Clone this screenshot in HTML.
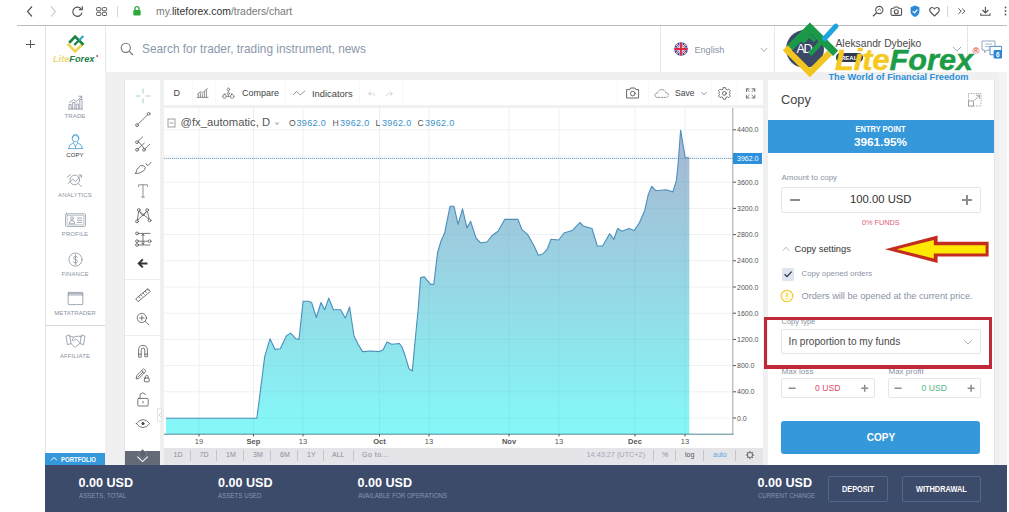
<!DOCTYPE html>
<html lang="en">
<head>
<meta charset="utf-8">
<title>LiteForex - Copy trading chart</title>
<style>
*{box-sizing:border-box;margin:0;padding:0}
html,body{width:1009px;height:512px;overflow:hidden;background:#fff}
body{position:relative;font-family:"Liberation Sans",sans-serif;color:#444;-webkit-font-smoothing:antialiased}
.a{position:absolute}
.t{position:absolute;white-space:nowrap;line-height:1}
.b{font-weight:bold}
.c{text-align:center}
svg{position:absolute;overflow:visible}
.ic{fill:none;stroke-linecap:round;stroke-linejoin:round}
.sb{font-size:6px;color:#8a93a3;width:60px;left:45px;text-align:center;letter-spacing:.1px}
.rg{font-size:7px;color:#8c8c9c;top:451px}
.sep{position:absolute;width:1px;background:#c4c4cc;top:450px;height:11px}
.ax{font-size:7px;color:#555;left:737px}
.tl{font-size:7.5px;color:#555;top:437.8px;width:30px;text-align:center}
</style>
</head>
<body>

<!-- ===== browser chrome ===== -->
<div class="a" style="left:17px;top:25px;width:989.7px;height:1px;background:#bdbdbd"></div>

<!-- ===== page backgrounds ===== -->
<div class="a" style="left:45px;top:26px;width:961.7px;height:46px;background:#fff"></div>
<div class="a" style="left:105px;top:72px;width:901.7px;height:393px;background:#f0f0f0"></div>
<div class="a" style="left:44.6px;top:26px;width:1.2px;height:486px;background:#e2e2e2"></div>
<div class="a" style="left:105px;top:26px;width:1px;height:46px;background:#e6e6e6"></div>
<div class="a" style="left:660px;top:26px;width:1px;height:46px;background:#e6e6e6"></div>
<div class="a" style="left:774px;top:26px;width:1px;height:46px;background:#e6e6e6"></div>
<div class="a" style="left:967px;top:26px;width:1px;height:46px;background:#e6e6e6"></div>
<div class="a" style="left:994px;top:80px;width:1px;height:385px;background:#e4e4e4"></div><div class="a" style="left:999px;top:72px;width:7.7px;height:393px;background:#f3f3f3"></div>

<!-- sidebar -->
<div class="a" style="left:46px;top:72px;width:59px;height:393px;background:#fff"></div>
<!-- tool panel -->
<div class="a" style="left:124px;top:80px;width:36px;height:385px;background:#fff;border-left:1px solid #e6e6e6"></div>
<!-- toolbar -->
<div class="a" style="left:164px;top:80px;width:599px;height:25px;background:#fff"></div>
<!-- chart pane -->
<div class="a" style="left:164px;top:108.4px;width:599px;height:339.6px;background:#fff"></div>
<div class="a" style="left:164px;top:448px;width:599px;height:17px;background:#e4e4e9"></div>

<!-- ===== chart ===== -->
<svg width="1009" height="512" viewBox="0 0 1009 512" style="left:0;top:0">
<defs><linearGradient id="ag" x1="0" y1="108" x2="0" y2="434" gradientUnits="userSpaceOnUse"><stop offset="0" stop-color="#acb0cf"/><stop offset="1" stop-color="#84f8f7"/></linearGradient><clipPath id="ac"><path d="M166,418.2 L256.9,418.2 L260.5,390 L264.7,356.6 L270,338.8 L275,349.4 L280.3,348.8 L286.6,335.6 L290.6,333.1 L296,338.8 L299,339.4 L303.1,301.3 L308.4,301.3 L311.6,302.5 L316.3,317.5 L321,302.5 L324.7,309.7 L328.8,298.1 L333.4,309.7 L340.6,309.7 L345.3,318.1 L349.6,307 L354,336 L358,344 L362.5,351.6 L371,351 L379,351.6 L383,350 L387,342 L391.7,344.2 L399.5,343.5 L402,347 L405.8,357.8 L409,368.8 L412.3,371 L415,342 L418.3,307.8 L420.6,277.5 L424.4,276.9 L430.6,284.4 L433.8,284.4 L437.5,253 L441,241 L444.7,232.8 L450,206.3 L454,206.3 L458,224.4 L462.5,208.8 L467,228 L470.6,221.3 L476,238 L480.6,242.8 L487,242 L491.6,236 L498,231.3 L504.7,219.4 L518,219.4 L522,229.7 L527.5,234.4 L533.8,245.3 L538.3,255.2 L542.8,254 L547.4,248.8 L551,239.3 L558.7,240 L564,233 L572.7,230.2 L579.8,222.5 L583.3,226 L592,228.5 L597.3,246 L602.6,246 L609.6,233.7 L613.8,239.3 L617.7,228.5 L622,231.3 L629,228.5 L634.2,230.6 L639.5,222.5 L644.8,210.2 L648.3,194.4 L651.8,186.3 L656,190.8 L665.9,189.8 L672.9,191.9 L676.4,180.3 L678.2,162.7 L680.6,130.2 L685.2,157.5 L689.3,158 L689.3,434 L166,434 Z"/></clipPath></defs>
<path d="M199,108V434M253.5,108V434M303,108V434M379.5,108V434M429,108V434M509,108V434M559,108V434M635,108V434M685,108V434M164,129.8H733M164,156.0H733M164,182.2H733M164,208.4H733M164,234.6H733M164,260.8H733M164,287.0H733M164,313.2H733M164,339.4H733M164,365.6H733M164,391.8H733M164,418.0H733" stroke="#edf0f3" stroke-width="1" fill="none"/>
<path d="M166,418.2 L256.9,418.2 L260.5,390 L264.7,356.6 L270,338.8 L275,349.4 L280.3,348.8 L286.6,335.6 L290.6,333.1 L296,338.8 L299,339.4 L303.1,301.3 L308.4,301.3 L311.6,302.5 L316.3,317.5 L321,302.5 L324.7,309.7 L328.8,298.1 L333.4,309.7 L340.6,309.7 L345.3,318.1 L349.6,307 L354,336 L358,344 L362.5,351.6 L371,351 L379,351.6 L383,350 L387,342 L391.7,344.2 L399.5,343.5 L402,347 L405.8,357.8 L409,368.8 L412.3,371 L415,342 L418.3,307.8 L420.6,277.5 L424.4,276.9 L430.6,284.4 L433.8,284.4 L437.5,253 L441,241 L444.7,232.8 L450,206.3 L454,206.3 L458,224.4 L462.5,208.8 L467,228 L470.6,221.3 L476,238 L480.6,242.8 L487,242 L491.6,236 L498,231.3 L504.7,219.4 L518,219.4 L522,229.7 L527.5,234.4 L533.8,245.3 L538.3,255.2 L542.8,254 L547.4,248.8 L551,239.3 L558.7,240 L564,233 L572.7,230.2 L579.8,222.5 L583.3,226 L592,228.5 L597.3,246 L602.6,246 L609.6,233.7 L613.8,239.3 L617.7,228.5 L622,231.3 L629,228.5 L634.2,230.6 L639.5,222.5 L644.8,210.2 L648.3,194.4 L651.8,186.3 L656,190.8 L665.9,189.8 L672.9,191.9 L676.4,180.3 L678.2,162.7 L680.6,130.2 L685.2,157.5 L689.3,158 L689.3,434 L166,434 Z" fill="url(#ag)"/>
<path d="M199,108V434M253.5,108V434M303,108V434M379.5,108V434M429,108V434M509,108V434M559,108V434M635,108V434M685,108V434M164,129.8H733M164,156.0H733M164,182.2H733M164,208.4H733M164,234.6H733M164,260.8H733M164,287.0H733M164,313.2H733M164,339.4H733M164,365.6H733M164,391.8H733M164,418.0H733" stroke="#5aa8c0" stroke-opacity=".13" stroke-width="1" fill="none" clip-path="url(#ac)"/>
<path d="M166,418.2 L256.9,418.2 L260.5,390 L264.7,356.6 L270,338.8 L275,349.4 L280.3,348.8 L286.6,335.6 L290.6,333.1 L296,338.8 L299,339.4 L303.1,301.3 L308.4,301.3 L311.6,302.5 L316.3,317.5 L321,302.5 L324.7,309.7 L328.8,298.1 L333.4,309.7 L340.6,309.7 L345.3,318.1 L349.6,307 L354,336 L358,344 L362.5,351.6 L371,351 L379,351.6 L383,350 L387,342 L391.7,344.2 L399.5,343.5 L402,347 L405.8,357.8 L409,368.8 L412.3,371 L415,342 L418.3,307.8 L420.6,277.5 L424.4,276.9 L430.6,284.4 L433.8,284.4 L437.5,253 L441,241 L444.7,232.8 L450,206.3 L454,206.3 L458,224.4 L462.5,208.8 L467,228 L470.6,221.3 L476,238 L480.6,242.8 L487,242 L491.6,236 L498,231.3 L504.7,219.4 L518,219.4 L522,229.7 L527.5,234.4 L533.8,245.3 L538.3,255.2 L542.8,254 L547.4,248.8 L551,239.3 L558.7,240 L564,233 L572.7,230.2 L579.8,222.5 L583.3,226 L592,228.5 L597.3,246 L602.6,246 L609.6,233.7 L613.8,239.3 L617.7,228.5 L622,231.3 L629,228.5 L634.2,230.6 L639.5,222.5 L644.8,210.2 L648.3,194.4 L651.8,186.3 L656,190.8 L665.9,189.8 L672.9,191.9 L676.4,180.3 L678.2,162.7 L680.6,130.2 L685.2,157.5 L689.3,158" fill="none" stroke="#4b8fbb" stroke-width="1.1" stroke-linejoin="round"/>
<path d="M164,158.4H733" stroke="#5f95bd" stroke-width="1" stroke-dasharray="1.3,.7" stroke-opacity=".9" fill="none"/>
<path d="M164,434.2H733.5" stroke="#4d8894" stroke-width="1" fill="none"/><path d="M732.8,108V434.6" stroke="#8a8a8a" stroke-width=".8" fill="none"/>
<path d="M733,129.8h3M733,156.0h3M733,182.2h3M733,208.4h3M733,234.6h3M733,260.8h3M733,287.0h3M733,313.2h3M733,339.4h3M733,365.6h3M733,391.8h3M733,418.0h3M199,434v2.5M253.5,434v2.5M303,434v2.5M379.5,434v2.5M429,434v2.5M509,434v2.5M559,434v2.5M635,434v2.5M685,434v2.5" stroke="#555" stroke-width="1" fill="none"/>
</svg>
<div class="t ax" style="top:126.3px">4400.0</div>
<div class="t ax" style="top:178.7px">3600.0</div>
<div class="t ax" style="top:204.9px">3200.0</div>
<div class="t ax" style="top:231.1px">2800.0</div>
<div class="t ax" style="top:257.3px">2400.0</div>
<div class="t ax" style="top:283.5px">2000.0</div>
<div class="t ax" style="top:309.7px">1600.0</div>
<div class="t ax" style="top:335.9px">1200.0</div>
<div class="t ax" style="top:362.1px">800.0</div>
<div class="t ax" style="top:388.3px">400.0</div>
<div class="t ax" style="top:414.5px">0.0</div>

<div class="a" style="left:733px;top:153.4px;width:29.2px;height:10.6px;background:#2d90dc"></div>
<div class="t" style="left:737px;top:155px;font-size:7px;color:#fff">3962.0</div>
<div class="t tl" style="left:184px">19</div>
<div class="t tl b" style="left:238.5px">Sep</div>
<div class="t tl" style="left:288px">13</div>
<div class="t tl b" style="left:364.5px">Oct</div>
<div class="t tl" style="left:414px">13</div>
<div class="t tl b" style="left:494px">Nov</div>
<div class="t tl" style="left:544px">13</div>
<div class="t tl b" style="left:620px">Dec</div>
<div class="t tl" style="left:670px">13</div>



<!-- ===== browser chrome content ===== -->
<svg width="1009" height="25" viewBox="0 0 1009 25" style="left:0;top:0">
 <path d="M32,6.5 27.5,11.5 32,16.5" fill="none" stroke="#555" stroke-width="1.2"/>
 <path d="M51,6.5 55.5,11.5 51,16.5" fill="none" stroke="#d0d0d0" stroke-width="1.2"/>
 <path d="M81.3,9.3A4.6,4.6 0 1 0 81.9,12.6" fill="none" stroke="#555" stroke-width="1.2"/>
 <path d="M82.3,6.3V9.7H78.9" fill="none" stroke="#555" stroke-width="1.2"/>
 <g fill="none" stroke="#555" stroke-width="1"><rect x="96.6" y="7.6" width="4.2" height="3.2" rx=".9"/><rect x="102.4" y="7.6" width="4.2" height="3.2" rx=".9"/><rect x="96.6" y="12.3" width="4.2" height="3.2" rx=".9"/><rect x="102.4" y="12.3" width="4.2" height="3.2" rx=".9"/></g>
 <path d="M117.5,6V17" stroke="#d6d6d6" stroke-width="1"/>
 <rect x="133.3" y="10" width="7.4" height="5.6" rx="1" fill="#2eaa3c"/>
 <path d="M135,10.2V8.6a2,2 0 0 1 4,0V10.2" fill="none" stroke="#2eaa3c" stroke-width="1.3"/>
 <!-- right icons -->
 <circle cx="879.3" cy="10" r="3.6" fill="none" stroke="#555" stroke-width="1.1"/><path d="M876.6,12.7 873,16.3" stroke="#555" stroke-width="1.3"/><path d="M877.6,10.6 879.3,8.8 881,10.3" fill="none" stroke="#555" stroke-width=".8"/>
 <path d="M892.4,8.2H894L895,7H897.6L898.6,8.2H900.2Q901.6,8.2 901.6,9.6V14Q901.6,15.4 900.2,15.4H892.4Q891,15.4 891,14V9.6Q891,8.2 892.4,8.2Z" fill="none" stroke="#555" stroke-width="1.1"/><circle cx="896.3" cy="11.7" r="2" fill="none" stroke="#555" stroke-width="1.1"/>
 <path d="M915,5.6 919.4,7.2V11.5Q919.4,15 915,17Q910.6,15 910.6,11.5V7.2Z" fill="#2c8ad8"/><path d="M912.8,11.2 914.5,12.9 917.4,9.6" fill="none" stroke="#fff" stroke-width="1.2"/>
 <path d="M934.5,16 930.4,12Q928.8,9.6 930.6,8Q932.8,6.6 934.5,9Q936.2,6.6 938.4,8Q940.2,9.6 938.6,12Z" fill="none" stroke="#555" stroke-width="1.1" stroke-linejoin="round"/>
 <path d="M947.5,6V17" stroke="#d6d6d6" stroke-width="1"/>
 <path d="M958.4,8.5 961.2,11.2 958.4,13.9M962.2,8.5 965,11.2 962.2,13.9" fill="none" stroke="#555" stroke-width="1"/>
 <path d="M985.4,6.8V12.8M982.4,10 985.4,13 988.4,10M980.8,13.2V15.2H990V13.2" fill="none" stroke="#555" stroke-width="1.1"/>
 <g fill="#555"><circle cx="1005.5" cy="7.5" r=".9"/><circle cx="1005.5" cy="11" r=".9"/><circle cx="1005.5" cy="14.5" r=".9"/></g>
</svg>
<div class="t" style="left:156px;top:7.1px;font-size:10.4px;color:#333"><span style="color:#777">my.</span>liteforex.com<span style="color:#777">/traders/chart</span></div>

<!-- plus -->
<div class="a" style="left:26px;top:44px;width:8.6px;height:1px;background:#555"></div><div class="a" style="left:30px;top:40.4px;width:1px;height:8px;background:#555"></div>

<!-- ===== header ===== -->
<svg width="62" height="46" viewBox="45 26 62 46" style="left:45px;top:26px">
 <path d="M67.6,43.8 75.1,51.4 82.4,44.2" fill="none" stroke="#f0d458" stroke-width="2.7"/>
 <path d="M69.2,42.7 75.1,36.6 83.5,44.7" fill="none" stroke="#1b8443" stroke-width="2.7" stroke-linejoin="miter"/>
 <path d="M74.2,45 79,40.4" fill="none" stroke="#1b8443" stroke-width="2.3"/>
 <path d="M79,40.4 83.4,36" fill="none" stroke="#2aa2c6" stroke-width="2"/>
 <text x="53" y="61.7" font-family="Liberation Sans, sans-serif" font-size="8.6" font-weight="bold" font-style="italic" textLength="41.4" lengthAdjust="spacingAndGlyphs"><tspan fill="#ecd97a">Lite</tspan><tspan fill="#1f7f47">Forex</tspan></text>
 <circle cx="97.2" cy="56" r=".9" fill="#a8443c"/>
</svg>
<svg width="14" height="14" viewBox="0 0 14 14" style="left:120px;top:42px"><circle cx="5.8" cy="5.8" r="4.6" fill="none" stroke="#777" stroke-width="1.1"/><path d="M9.2,9.2 13,13" stroke="#777" stroke-width="1.2"/></svg>
<div class="t" id="srch" style="left:142px;top:43.5px;font-size:11.85px;color:#8b98ac">Search for trader, trading instrument, news</div>

<!-- language -->
<svg width="14" height="14" viewBox="-7 -7 14 14" style="left:674px;top:42.4px">
 <defs><clipPath id="fc"><circle r="6.8"/></clipPath></defs>
 <g clip-path="url(#fc)"><rect x="-7" y="-7" width="14" height="14" fill="#2b3f8c"/>
 <path d="M-7,-7 7,7M7,-7 -7,7" stroke="#e8e0ee" stroke-width="2"/><path d="M-7,-7 7,7M7,-7 -7,7" stroke="#d8284a" stroke-width=".8"/>
 <path d="M0,-7V7M-7,0H7" stroke="#f0e8f0" stroke-width="3.2"/><path d="M0,-7V7M-7,0H7" stroke="#d8284a" stroke-width="1.9"/></g>
</svg>
<div class="t" style="left:694.5px;top:45.6px;font-size:9.1px;color:#8a93a3">English</div>
<svg width="8" height="6" viewBox="0 0 8 6" style="left:760px;top:46.5px"><path d="M.8,1 4,4.4 7.2,1" fill="none" stroke="#aab" stroke-width="1"/></svg>

<!-- user -->
<div class="a" style="left:785.9px;top:29.9px;width:38.6px;height:38.6px;border-radius:50%;background:#3c4868"></div>
<div class="t" style="left:796.4px;top:42.8px;font-size:12.8px;letter-spacing:-1.4px;color:#fff">AD</div>
<div class="t" style="left:835.5px;top:39.1px;font-size:10.3px;color:#4a4a4a">Aleksandr Dybejko</div>
<div class="a" style="left:835.6px;top:53.2px;width:27.4px;height:8.6px;border-radius:4.3px;background:#2e3852"></div>
<div class="t b" style="left:841px;top:54.6px;font-size:6px;color:#fff">REAL</div>
<svg width="10" height="6" viewBox="0 0 10 6" style="left:952px;top:46px"><path d="M1,1 5,5 9,1" fill="none" stroke="#aab" stroke-width="1"/></svg>
<svg width="24" height="22" viewBox="980 38 24 22" style="left:980px;top:38px">
 <path d="M982,41H995V50H987L984.6,52.6V50H982Z" fill="#fff" stroke="#9aa6b8" stroke-width="1" stroke-linejoin="round"/>
 <path d="M985,44H992M985,46.6H992" stroke="#9aa6b8" stroke-width=".8"/>
 <path d="M990,46.4H1001.6V54.8H999.4V57.2L997,54.8H990Z" fill="#fff" stroke="#4a90d0" stroke-width="1" stroke-linejoin="round"/>
 <rect x="993.6" y="50" width="8.4" height="8.4" rx="1" fill="#2f86d4"/>
 <text x="997.8" y="56.8" font-family="Liberation Sans, sans-serif" font-size="6.5" font-weight="bold" fill="#fff" text-anchor="middle">6</text>
</svg>

<!-- ===== watermark logo ===== -->
<svg width="200" height="64" viewBox="780 20 200 64" style="left:780px;top:20px">
 <path d="M787.3,50.2 809.9,72.8 829.6,53.1" fill="none" stroke="#f2c420" stroke-width="6.4" stroke-linejoin="miter"/>
 <path d="M785,52.5 790.5,47" fill="none" stroke="#f2c420" stroke-width="6.4"/>
 <path d="M790,47.6 809.9,27.7 835.6,53.4" fill="none" stroke="#1a9a48" stroke-width="7.2" stroke-linejoin="miter"/>
 <path d="M802.4,42.4 809.4,35.4 815,41" fill="none" stroke="#1a9a48" stroke-width="3.8" stroke-linejoin="miter"/>
 <path d="M809.8,54.4 824.8,38.2" fill="none" stroke="#1a9a48" stroke-width="4.6"/>
 <path d="M824.6,38.4 835.8,26.2" fill="none" stroke="#1fa5dc" stroke-width="5.2" stroke-linecap="round"/>
 <text x="835" y="69.5" font-family="Liberation Sans, sans-serif" font-size="30" font-weight="bold" font-style="italic" textLength="138" lengthAdjust="spacingAndGlyphs" stroke-width=".5" paint-order="stroke"><tspan fill="#f6c91f" stroke="#f6c91f">Lite</tspan><tspan fill="#1d9c48" stroke="#1d9c48">Forex</tspan></text>
 <text x="828.5" y="79.6" font-family="Liberation Sans, sans-serif" font-size="8.6" font-weight="bold" fill="#2b8fd9" textLength="140" lengthAdjust="spacingAndGlyphs">The World of Financial Freedom</text>
 <text x="972.6" y="54" font-family="Liberation Sans, sans-serif" font-size="9.4" font-weight="bold" fill="#e0574c">®</text>
</svg>

<!-- ===== sidebar items ===== -->
<div class="a" style="left:46px;top:325px;width:59px;height:1px;background:#d4d8de"></div>
<div class="t sb" style="top:113.2px">TRADE</div>
<div class="t sb" style="top:152px;color:#333">COPY</div>
<div class="t sb" style="top:191.8px">ANALYTICS</div>
<div class="t sb" style="top:230.5px">PROFILE</div>
<div class="t sb" style="top:270.5px">FINANCE</div>
<div class="t sb" style="top:309.8px">METATRADER</div>
<div class="t sb" style="top:352.8px">AFFILIATE</div>
<svg width="60" height="300" viewBox="45 90 60 300" style="left:45px;top:90px">
 <g class="ic" stroke="#8a93a3" stroke-width=".8">
  <!-- trade -->
  <path d="M69,109V104.5H71.2V109M72.6,109V102.5H74.8V109M76.2,109V104H78.4V109M79.8,109V99.5H82V109M68.4,109H82.6"/>
  <path d="M69.4,102.6 73.4,99.6 76.6,101.6 81.6,96.4M79,96.2H81.8V99"/>
  <!-- analytics -->
  <circle cx="74.8" cy="180" r="4.8"/><path d="M78.3,183.5 81.4,186.6M68.4,183.6 72.6,179.2 75.6,181.6 81,175.4M78.8,175H81.4V177.6M67.4,176.8 70.6,174.6"/>
  <!-- profile -->
  <rect x="65.6" y="213.8" width="19.8" height="12.6" rx=".8"/><rect x="67.2" y="215.4" width="16.6" height="9.4" rx=".4" stroke-width=".5"/>
  <circle cx="72" cy="218.4" r="1.5"/><path d="M69.2,223.4Q69.2,220.6 72,220.6Q74.8,220.6 74.8,223.4ZM77.4,218H81.8M77.4,220.2H81.8M77.4,222.4H81.8"/>
  <!-- finance -->
  <circle cx="75.5" cy="259.6" r="6.6"/><path d="M77.4,257.6Q77,256.2 75.5,256.2Q73.6,256.2 73.6,257.8Q73.6,259.2 75.5,259.6Q77.5,260 77.5,261.5Q77.5,263 75.5,263Q73.8,263 73.5,261.6M75.5,254.8V264.6"/>
  <!-- metatrader -->
  <rect x="68.2" y="292.4" width="14.6" height="12.2" rx=".6"/><path d="M68.2,295H82.8M68.2,293.6H82.8"/>
  <!-- affiliate -->
  <path d="M66.4,336 69.6,335 71,343.6 67.8,344.6ZM84.6,336 81.4,335 80,343.6 83.2,344.6ZM70,336.4Q72,336 73.6,337.2L75.6,336.6Q78,335.6 81.2,336.6M70.8,343.4 74.2,346.6Q75.4,347.4 76.4,346.4L80.2,343M73.6,337.2 72,340.2Q73.6,341.4 75,339.6L76,338.8 79.4,342.4"/>
 </g>
 <g class="ic" stroke="#3d9ad6" stroke-width=".8">
  <!-- copy -->
  <circle cx="75.5" cy="138.6" r="3.3"/><path d="M72.2,137.8Q72.6,134.4 75.5,134.4Q78.4,134.4 78.8,137.8M68.6,148.6Q68.6,144.2 72.6,143.4L73.6,142.4M82.4,148.6Q82.4,144.2 78.4,143.4L77.4,142.4M68.6,148.6H82.4M73.4,143.4 75.5,146.4 77.6,143.4M75.5,146.4V148.4"/>
 </g>
</svg>


<!-- ===== chart toolbar ===== -->
<div class="t" style="left:173.5px;top:88.8px;font-size:9px;color:#444">D</div>
<div class="t" style="left:242px;top:88.8px;font-size:9px;color:#444">Compare</div>
<div class="t" style="left:312px;top:88.6px;font-size:9.4px;color:#444">Indicators</div>
<div class="t" style="left:675px;top:89px;font-size:8.6px;color:#444">Save</div>
<svg width="600" height="26" viewBox="164 80 600 26" style="left:164px;top:80px">
 <path d="M192.5,80V105M215.5,80V105M285.5,80V105M359.5,80V105M402.5,80V105M617.5,80V105M648.5,80V105M711.5,80V105M737.5,80V105" stroke="#f8f8f8" stroke-width="1"/>
 <g class="ic" stroke="#777" stroke-width=".8">
  <!-- bars -->
  <path d="M197,97.4H208M198.4,97V94.6M200.4,97V93M202.4,97V94M204.4,97V91.6M206.4,97V89.6M197.4,94.2 200.6,91.6 202.6,92.8 207.4,88.6" />
  <!-- compare -->
  <path d="M228.4,88V96.4M222.4,96.4H234.4M225,93.4V96.4M231.8,93.4V96.4"/><circle cx="228.4" cy="89.4" r="1.3" fill="#fff"/><rect x="223" y="94.6" width="3" height="3.6" rx="1" fill="#fff"/><rect x="230.6" y="94.6" width="3" height="3.6" rx="1" fill="#fff"/><circle cx="228.4" cy="93.6" r="1.1" fill="#fff"/>
  <!-- indicators -->
  <path d="M293.4,94.6 296.6,91.4 300.2,95 304.8,91"/>
 </g>
 <g class="ic" stroke="#d4d4d4" stroke-width=".9">
  <path d="M368.8,93.6H372.6Q374.6,93.6 374.6,95.8M370.6,91.6 368.6,93.6 370.6,95.6"/>
  <path d="M392.2,93.6H388.4Q386.4,93.6 386.4,95.8M390.4,91.6 392.4,93.6 390.4,95.6"/>
 </g>
 <g class="ic" stroke="#555" stroke-width=".9">
  <!-- camera -->
  <path d="M627,89.6H629.6L630.6,88H635L636,89.6H638.6V98H627Z"/><circle cx="632.8" cy="93.6" r="2.3"/>
  <!-- cloud -->
  <path d="M657,97.4Q654.6,96.8 655,94.6Q655.6,92.8 657.6,93Q658,90.2 661,89.6Q664.4,89.4 665.4,92.4Q668.2,92.4 668.4,95Q668.2,97.4 665.6,97.4Z" stroke-dasharray="1.6 1.3" stroke-width=".8" stroke="#777"/>
  <path d="M701.6,92.2 704,94.8 706.4,92.2" stroke="#888"/>
  <!-- gear -->
  <circle cx="724.4" cy="93.4" r="1.9"/>
  <path d="M723.3,87.6H725.5L725.9,89.3 727.3,90 728.8,89.1 730.3,90.7 729.4,92.2 729.9,93.4 729.4,94.6 730.3,96.1 728.8,97.7 727.3,96.8 725.9,97.5 725.5,99.2H723.3L722.9,97.5 721.5,96.8 720,97.7 718.5,96.1 719.4,94.6 718.9,93.4 719.4,92.2 718.5,90.7 720,89.1 721.5,90 722.9,89.3Z" stroke-width=".8"/>
  <!-- fullscreen -->
  <path d="M746.4,91.6V88.8H749.2M746.6,89 749.2,91.6M754.8,91.6V88.8H752M754.6,89 752,91.6M746.4,95.2V98H749.2M746.6,97.8 749.2,95.2M754.8,95.2V98H752M754.6,97.8 752,95.2" stroke-width=".8"/>
 </g>
</svg>

<!-- legend -->
<svg width="10" height="10" viewBox="0 0 10 10" style="left:166.5px;top:118px"><rect x="1" y="1" width="7" height="8" fill="none" stroke="#888" stroke-width=".8"/><path d="M2.6,5H6.4" stroke="#888" stroke-width=".8"/></svg>
<div class="t" style="left:180.5px;top:117.3px;font-size:11.25px;color:#555">@fx_automatic, D</div>
<svg width="6" height="4" viewBox="0 0 6 4" style="left:273.5px;top:121.5px"><path d="M.5,.5H5.5L3,3.2Z" fill="#bbb"/></svg>
<div class="t" style="left:289px;top:118.6px;font-size:8.6px;color:#555">O</div><div class="t" style="left:296.5px;top:118.5px;font-size:9px;letter-spacing:.35px;color:#3a93c8">3962.0</div>
<div class="t" style="left:332.5px;top:118.6px;font-size:8.6px;color:#555">H</div><div class="t" style="left:340px;top:118.5px;font-size:9px;letter-spacing:.35px;color:#3a93c8">3962.0</div>
<div class="t" style="left:375.5px;top:118.6px;font-size:8.6px;color:#555">L</div><div class="t" style="left:382px;top:118.5px;font-size:9px;letter-spacing:.35px;color:#3a93c8">3962.0</div>
<div class="t" style="left:417.5px;top:118.6px;font-size:8.6px;color:#555">C</div><div class="t" style="left:425px;top:118.5px;font-size:9px;letter-spacing:.35px;color:#3a93c8">3962.0</div>

<!-- range bar -->
<div class="t rg" style="left:173.5px">1D</div><div class="sep" style="left:190px"></div>
<div class="t rg" style="left:199.5px">7D</div><div class="sep" style="left:216px"></div>
<div class="t rg" style="left:226px">1M</div><div class="sep" style="left:243px"></div>
<div class="t rg" style="left:253px">3M</div><div class="sep" style="left:270px"></div>
<div class="t rg" style="left:280px">6M</div><div class="sep" style="left:297px"></div>
<div class="t rg" style="left:307px">1Y</div><div class="sep" style="left:323px"></div>
<div class="t rg" style="left:332px">ALL</div><div class="sep" style="left:353px"></div>
<div class="t rg" style="left:362px;letter-spacing:.5px">Go to...</div>
<div class="t rg" style="left:586.5px;font-size:7.3px;color:#a6a6b4">14:43:27 (UTC+2)</div><div class="sep" style="left:653px"></div>
<div class="t rg" style="left:662px">%</div><div class="sep" style="left:675px"></div>
<div class="t rg" style="left:685px;color:#555">log</div><div class="sep" style="left:703px"></div>
<div class="t rg" style="left:713px;color:#5aa7dc">auto</div><div class="sep" style="left:735px"></div>
<svg width="10" height="10" viewBox="-5 -5 10 10" style="left:745px;top:450px"><circle r="2.6" fill="none" stroke="#666" stroke-width="1"/><path d="M0,-4.2V-2.8M0,4.2V2.8M-4.2,0H-2.8M4.2,0H2.8M-3,-3-2,-2M3,3 2,2M-3,3-2,2M3,-3 2,-2" stroke="#666" stroke-width="1"/></svg>

<!-- ===== drawing tools ===== -->
<div class="a" style="left:125px;top:278.5px;width:35px;height:1px;background:#ececec"></div>
<div class="a" style="left:125px;top:335px;width:35px;height:1px;background:#ececec"></div>
<div class="a" style="left:125px;top:451px;width:35px;height:14px;background:#656a77"></div>
<div class="a" style="left:157px;top:408px;width:5px;height:14px;background:#fff;border:1px solid #e2e2e2;border-radius:1px"></div>
<svg width="36" height="386" viewBox="125 80 36 386" style="left:125px;top:80px">
 <path d="M143,88.6V93.6M143,98.4V103.4M135.6,96H140.6M145.4,96H150.4" stroke="#9fd3d6" stroke-width="1" fill="none"/>
 <g class="ic" stroke="#555" stroke-width=".8">
  <!-- line -->
  <path d="M138,124.2 147.6,114.8"/><circle cx="137" cy="125.2" r="1.4" fill="#fff"/><circle cx="148.6" cy="113.8" r="1.4" fill="#fff"/>
  <!-- pitchfork -->
  <path d="M137.8,141.4 142.6,137M137.6,149.2 144.4,143M144.6,149.2 149.6,144.4M138.4,141.6 144.4,148.6"/><circle cx="137" cy="142.2" r="1.4" fill="#fff"/><circle cx="137" cy="149.8" r="1.4" fill="#fff"/><circle cx="144" cy="149.8" r="1.4" fill="#fff"/>
  <!-- brush -->
  <path d="M135.6,173.4Q136.4,168.6 140.4,165.6Q144.6,165 145.4,167.6Q144.8,171 140.6,172.6Q138,173.8 135.6,173.4ZM146,163.6Q147,166 148.2,165.4L151.2,162.2"/>
  <!-- T -->
  <path d="M138.6,186.6V184.8H147.4V186.6M143,184.8V197M141.6,197H144.4" stroke="#777"/>
  <!-- pattern -->
  <path d="M137.2,220.6 138.8,210.8 143,216 147.2,210.8 149.4,219.6M138.8,210.8 149.4,219.6M147.2,210.8 137.2,220.6"/><circle cx="138.8" cy="210" r="1.4" fill="#fff"/><circle cx="147.2" cy="210" r="1.4" fill="#fff"/><circle cx="137" cy="221.4" r="1.4" fill="#fff"/><circle cx="149.6" cy="220.4" r="1.4" fill="#fff"/>
  <!-- measure -->
  <path d="M138.2,233.4H150M138.2,245H150M138.2,241.2H148.4M143,234V244.6M141.8,242.8 143,244.4 144.2,242.8M141.8,235.6 143,234 144.2,235.6"/><circle cx="137" cy="233.4" r="1.4" fill="#fff"/><circle cx="137" cy="241.2" r="1.4" fill="#fff"/><circle cx="137" cy="245" r="1.4" fill="#fff"/><circle cx="149.6" cy="241.2" r="1.4" fill="#fff"/>
  <!-- ruler -->
  <path d="M136,298.6 148,288.6 150.4,291.4 138.4,301.4ZM138.6,296.6 139.8,298M140.8,294.8 142,296.2M143,293 144.2,294.4M145.2,291.2 146.4,292.6M147.2,289.4 148.2,290.6"/>
  <!-- zoom -->
  <circle cx="141.8" cy="318" r="4.6"/><path d="M145.2,321.4 148.6,324.8M139.6,318H144M141.8,315.8V320.2"/>
  <!-- magnet -->
  <path d="M138.6,356.8V349.8Q138.6,345.4 143,345.4Q147.4,345.4 147.4,349.8V356.8H144.8V350Q144.8,348 143,348Q141.2,348 141.2,350V356.8ZM138.6,354.2H141.2M144.8,354.2H147.4"/>
  <!-- pencil lock -->
  <path d="M136.2,378.6 136.8,375.4 143.6,368.8 146,371.2 139.4,378ZM141.8,370.6 144.2,373M142.8,372.2 138,377"/><rect x="144.4" y="378" width="4.8" height="3.8" rx=".6" fill="#fff"/><path d="M145.4,378V376.8Q145.4,375.4 146.8,375.4Q148.2,375.4 148.2,376.8V378"/>
  <!-- lock -->
  <rect x="137.8" y="398.4" width="10.4" height="7.6" rx="1"/><path d="M140,398.4V395.6Q140,393 142.6,393Q145,393 145.4,394.6M143,401.4V403"/>
  <!-- eye -->
  <path d="M136.4,423.6Q139.4,419.6 143,419.6Q146.6,419.6 149.6,423.6Q146.6,427.6 143,427.6Q139.4,427.6 136.4,423.6Z"/>
 </g>
 <circle cx="143" cy="423.6" r="1.5" fill="#444"/>
 <path d="M147.4,263.4H139.4M142.8,259.4 138.8,263.4 142.8,267.4" fill="none" stroke="#333" stroke-width="2"/>
 <path d="M137.4,456.6 142.6,461.6 147.8,456.6" fill="none" stroke="#fff" stroke-width="1.1"/>
 <path d="M138.2,454 142.6,449.6 147,454 142.6,458.4Z" fill="#5e626e" stroke="#848894" stroke-width=".8"/>
</svg>
<svg width="4" height="6" viewBox="0 0 4 6" style="left:157.5px;top:412px"><path d="M3,.8 1,3 3,5.2" fill="none" stroke="#bbb" stroke-width=".7"/></svg>

<!-- right panel -->
<div class="a" style="left:767.5px;top:80px;width:226.5px;height:385px;background:#fff"></div>
<!-- bottom bar -->
<div class="a" style="left:45px;top:465px;width:961.7px;height:47px;background:#3d4b6a"></div>


<!-- ===== right panel content ===== -->
<div class="t" style="left:781px;top:94.3px;font-size:12.8px;color:#444">Copy</div>
<svg width="16" height="16" viewBox="0 0 16 16" style="left:966.6px;top:92px">
 <rect x="1.5" y="1.5" width="12.5" height="12.5" fill="none" stroke="#999" stroke-width=".9" stroke-dasharray="1.2 1.2"/>
 <rect x="1.5" y="9" width="5" height="5" fill="#fff" stroke="#999" stroke-width=".9"/>
 <path d="M7.4,8.4 12.4,3.4M9,3.2H12.6V6.8" fill="none" stroke="#999" stroke-width=".9"/>
</svg>
<div class="a" style="left:767.5px;top:120px;width:226.5px;height:32.8px;background:#3498db"></div>
<div class="t b c" style="left:767px;width:227px;top:124.84px;font-size:8.62px;color:#fff;transform:scaleX(0.870);transform-origin:center center">ENTRY POINT</div>
<div class="t b c" style="left:767px;width:227px;top:137px;font-size:11.8px;color:#fff">3961.95%</div>

<div class="t" style="left:781.5px;top:174.4px;font-size:8px;color:#8a93a3">Amount to copy</div>
<div class="a" style="left:781px;top:186.5px;width:199.5px;height:26px;border:1px solid #e3e7eb;border-radius:2px;background:#fff"></div>
<div class="a" style="left:789.5px;top:198.6px;width:10px;height:2px;background:#8d8d8d"></div>
<div class="a" style="left:962.2px;top:198.6px;width:10px;height:2px;background:#8d8d8d"></div>
<div class="a" style="left:966.2px;top:194.6px;width:2px;height:10px;background:#8d8d8d"></div>
<div class="t c" style="left:781px;width:199.5px;top:193.8px;font-size:11.3px;color:#333">100.00 USD</div>
<div class="t c" style="left:781px;width:199.5px;top:219px;font-size:7.3px;color:#e0607a">0% FUNDS</div>

<svg width="8" height="6" viewBox="0 0 8 6" style="left:781.5px;top:246px"><path d="M.8,4.6 4,1.2 7.2,4.6" fill="none" stroke="#aab" stroke-width=".9"/></svg>
<div class="t" style="left:794.5px;top:244.8px;font-size:9.3px;color:#333">Copy settings</div>

<!-- arrow annotation -->
<svg width="110" height="32" viewBox="882 233 110 32" style="left:882px;top:233px">
 <path d="M885,249.2 937.6,235.4V241.8H988.6V256.6H937.6V263Z" fill="#c32c1f"/><path d="M896.8,249.2 933.8,239.9V245.2H985.6V253.4H933.8V258.5Z" fill="#ffe900"/>
</svg>

<div class="a" style="left:781.8px;top:267.8px;width:12.6px;height:12.8px;background:#dfe4ef;border-radius:1.5px"></div>
<svg width="12" height="12" viewBox="0 0 12 12" style="left:782.2px;top:268.2px"><path d="M2.6,6.2 5,8.6 9.6,3.6" fill="none" stroke="#2b3554" stroke-width="1.3"/></svg>
<div class="t" style="left:801.5px;top:270.2px;font-size:7.8px;color:#8a93a3">Copy opened orders</div>

<svg width="14" height="14" viewBox="-7 -7 14 14" style="left:780.3px;top:288.7px"><circle r="5.8" fill="#fffbe6" stroke="#f0c825" stroke-width="1.1"/><path d="M0,-3V1" stroke="#f0c825" stroke-width="1.2"/><circle cy="2.9" r=".7" fill="#f0c825"/></svg>
<div class="t" style="left:801.5px;top:292px;font-size:9.2px;color:#8a93a3">Orders will be opened at the current price.</div>

<div class="t" style="left:781.5px;top:318.4px;font-size:7.5px;color:#8a93a3">Copy type</div>
<div class="a" style="left:781px;top:328.5px;width:199.5px;height:25.5px;border:1px solid #e3e7eb;border-radius:2px;background:#fff"></div>
<div class="t" style="left:788.6px;top:337.2px;font-size:10.1px;color:#484848">In proportion to my funds</div>
<svg width="10" height="6" viewBox="0 0 10 6" style="left:962.8px;top:339.2px"><path d="M1,1 5,5 9,1" fill="none" stroke="#aab" stroke-width=".9"/></svg>
<div class="a" style="left:763.6px;top:317.1px;width:228.3px;height:51.9px;border:3.9px solid #bf2937"></div>

<div class="t" style="left:781.5px;top:367.5px;font-size:8.1px;color:#8a93a3">Max loss</div>
<div class="t" style="left:888.5px;top:367.5px;font-size:8px;color:#8a93a3">Max profit</div>
<div class="a" style="left:763.6px;top:364.9px;width:228.3px;height:4.1px;background:#bf2937"></div>
<div class="a" style="left:781px;top:378.4px;width:93.5px;height:19.6px;border:1px solid #e3e7eb;border-radius:2px;background:#fff"></div>
<div class="a" style="left:888px;top:378.4px;width:92.5px;height:19.6px;border:1px solid #e3e7eb;border-radius:2px;background:#fff"></div>
<div class="t c" style="left:781px;width:93.5px;top:384px;font-size:8.6px;color:#dc4a68">0 USD</div>
<div class="t c" style="left:888px;width:92.5px;top:384px;font-size:8.6px;color:#55b582">0 USD</div>
<svg width="200" height="12" viewBox="781 382 200 12" style="left:781px;top:382px"><path d="M788.6,388.2H795.6M861.2,388.2H868.2M864.7,384.7V391.7M894.6,388.2H901.6M967.6,388.2H974.6M971.1,384.7V391.7" stroke="#8d8d8d" stroke-width="1.6" fill="none"/></svg>

<div class="a" style="left:781.3px;top:420.8px;width:199.2px;height:33.6px;background:#3498db;border-radius:3px"></div>
<div class="t b c" style="left:781.3px;width:199.2px;top:432.8px;font-size:10px;color:#fff">COPY</div>

<!-- ===== bottom bar content ===== -->
<div class="a" style="left:45px;top:453px;width:60px;height:12px;background:#3498db"></div>
<svg width="8" height="6" viewBox="0 0 8 6" style="left:50px;top:456.4px"><path d="M1,4.4 4,1.4 7,4.4" fill="none" stroke="#fff" stroke-width="1"/></svg>
<div class="t b" style="left:61.2px;top:455.54px;font-size:7.32px;color:#fff;transform:scaleX(0.820);transform-origin:left center">PORTFOLIO</div>

<div class="t b" style="left:78.5px;top:477px;font-size:12.6px;color:#fff">0.00 USD</div>
<div class="t" style="left:78.8px;top:492.54px;font-size:7.13px;color:#8994ae;transform:scaleX(0.870);transform-origin:left center">ASSETS, TOTAL</div>
<div class="t b" style="left:218px;top:477px;font-size:12.6px;color:#fff">0.00 USD</div>
<div class="t" style="left:218.3px;top:492.54px;font-size:7.13px;color:#8994ae;transform:scaleX(0.870);transform-origin:left center">ASSETS USED</div>
<div class="t b" style="left:357.5px;top:477px;font-size:12.6px;color:#fff">0.00 USD</div>
<div class="t" style="left:357.8px;top:492.54px;font-size:7.13px;color:#8994ae;transform:scaleX(0.870);transform-origin:left center">AVAILABLE FOR OPERATIONS</div>
<div class="t b" style="left:757.5px;top:477px;font-size:12.6px;color:#fff">0.00 USD</div>
<div class="t" style="left:757.8px;top:492.55px;font-size:6.96px;color:#8994ae;transform:scaleX(0.870);transform-origin:left center">CURRENT CHANGE</div>
<div class="a" style="left:828.3px;top:476.4px;width:60.2px;height:25.6px;border:1px solid #50678f;border-radius:2px"></div>
<div class="a" style="left:901.8px;top:476.4px;width:78.8px;height:25.6px;border:1px solid #50678f;border-radius:2px"></div>
<div class="t b c" style="left:828.3px;width:60.2px;top:484.67px;font-size:8.76px;color:#fff;transform:scaleX(0.833);transform-origin:center center">DEPOSIT</div>
<div class="t b c" style="left:901.8px;width:78.8px;top:484.66px;font-size:8.88px;color:#fff;transform:scaleX(0.833);transform-origin:center center">WITHDRAWAL</div>

</body>
</html>
